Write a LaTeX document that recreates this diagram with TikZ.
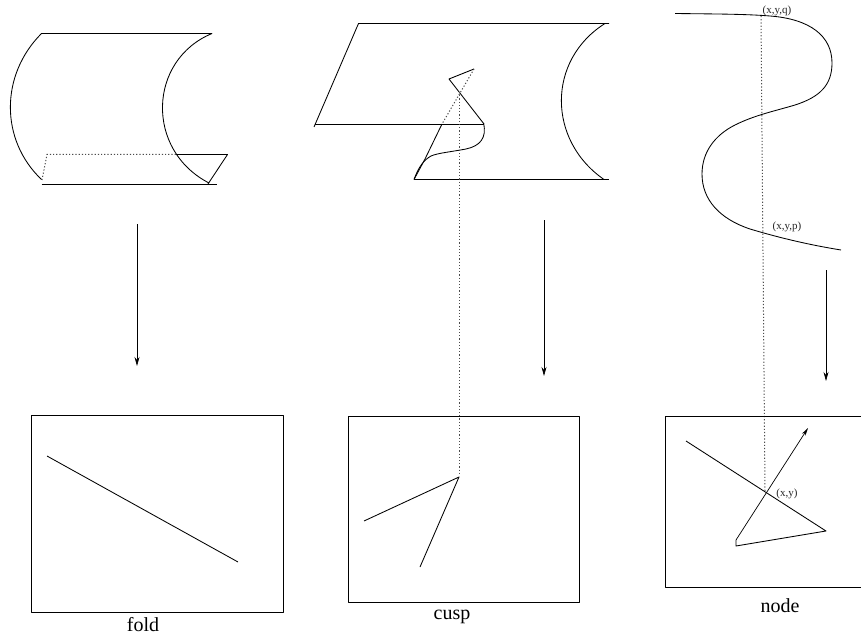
\documentclass[tikz,border=0pt]{standalone}
\usepackage{fontspec}
\setmainfont{Liberation Serif}
\usetikzlibrary{arrows.meta}
\tikzset{
  line/.style={draw=black,line width=0.85pt,line join=round},
  dots/.style={draw=black!70,line width=1pt,dash pattern=on 1.2pt off 2pt},
  downarrow/.style={line,line width=0.7pt,-{Stealth[length=9pt,width=5pt]}},
  caption/.style={font=\fontsize{20}{22}\selectfont,inner sep=0pt,text=black},
  small/.style={font=\fontsize{11}{13}\selectfont,inner sep=0pt,text=black!85},
}
\begin{document}
\begin{tikzpicture}[x=1pt,y=-1pt]
\useasboundingbox (0,0) rectangle (861,639);
% fold
\draw[line] (212,33.5) -- (41.5,33.5) .. controls (0,75) and (0,140) .. (41.5,179.5);
\draw[line] (41.5,184.5) -- (217,184.5);
\draw[line] (212,33.5) .. controls (148,60) and (145,150) .. (209,183);
\draw[dots] (42,180) -- (47,154.5) -- (176,154.5);
\draw[line] (176,154.5) -- (227.5,154.5) -- (208,184);
\draw[downarrow] (137,224) -- (137,366);
\node[line,draw,fill=none,minimum width=252pt,minimum height=197pt,inner sep=0pt] (boxa) at (157,513.5) {};
\draw[line] (47,456) -- (238,562);
\node[caption] (fold) at (143,625) {fold};
% cusp
\draw[line] (314,127) -- (358.5,23.5) -- (609,23.5);
\draw[line] (314.5,124) -- (484,124);
\draw[line] (414,179.5) -- (609,179.5);
\draw[line] (605,23.5) .. controls (547,60) and (547,140) .. (604,179.5);
\draw[line] (484,124) -- (449,79) -- (474,69);
\draw[dots] (474,69) -- (442,124);
\draw[line] (442,124) -- (425,159) -- (414,179.5);
\draw[line] (483.5,123) .. controls (487,138) and (480,146) .. (466,149) .. controls (450,152) and (438,153) .. (431,156) .. controls (424,160) and (419,166) .. (414,179.5);
\draw[dots] (459,92) -- (459,476);
\draw[downarrow] (544,220) -- (544,376);
\node[line,draw,fill=none,minimum width=231pt,minimum height=186pt,inner sep=0pt] (boxb) at (463.5,509) {};
\draw[line] (364,521) -- (459,477) -- (420,567);
\node[caption] (cusp) at (452,617) {cusp};
% node
\draw[line] (675,13.5) .. controls (715,14) and (745,14) .. (770,16) .. controls (810,19) and (832,36) .. (832,63)
  .. controls (832,85) and (820,97) .. (795,105) .. controls (775,111) and (755,115) .. (735,125)
  .. controls (715,135) and (702,152) .. (702,174) .. controls (702,200) and (720,219) .. (750,229)
  .. controls (780,238) and (810,245) .. (841,250);
\draw[dots] (761,16) -- (765,492);
\node[small] (q) at (777,11) {(x,y,q)};
\node[small] (p) at (787,227) {(x,y,p)};
\draw[downarrow] (826,270) -- (826,381);
\draw[line] (861,416) -- (665,416) -- (665,587) -- (861,587);
\draw[line] (686,441) -- (826,531) -- (736,546) -- (736,540);
\draw[line,line width=0.7pt,-{Stealth[length=8pt,width=4pt]}] (736,540) -- (808,428);
\node[small] (xy) at (787,494) {(x,y)};
\node[caption] (nodelabel) at (780,606) {node};
\end{tikzpicture}
\end{document}
